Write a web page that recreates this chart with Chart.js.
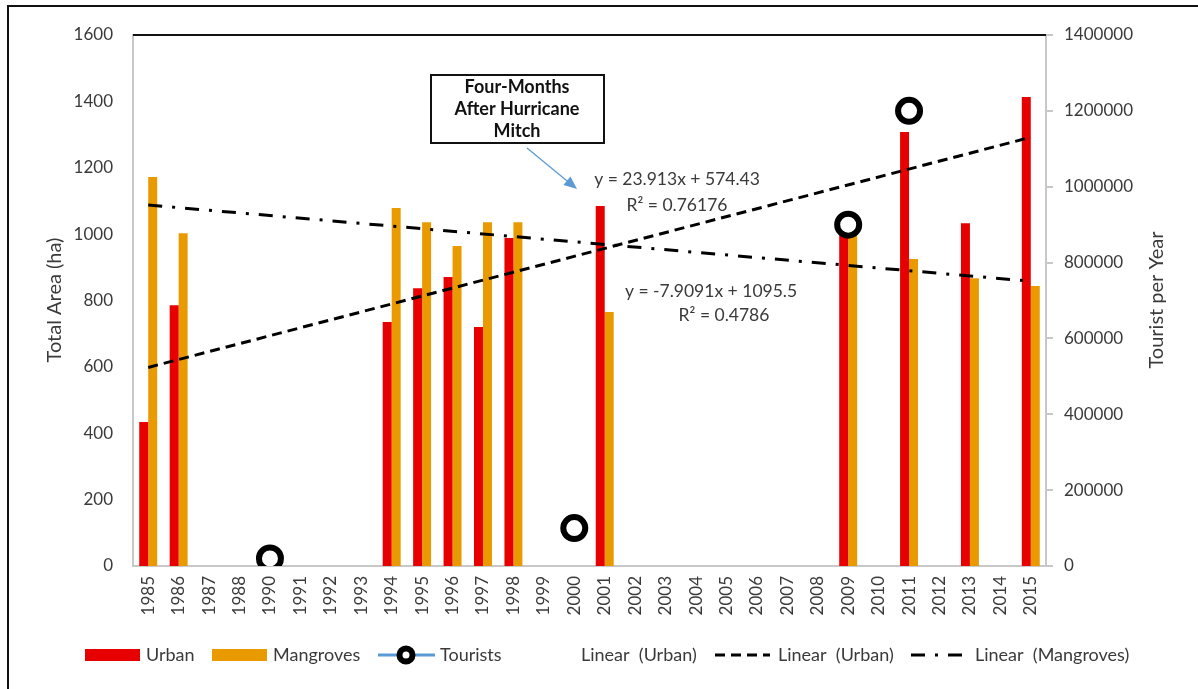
<!DOCTYPE html>
<html><head><meta charset="utf-8">
<script src="https://cdn.jsdelivr.net/npm/chart.js@4.4.0/dist/chart.umd.min.js"></script>
<style>html,body{margin:0;padding:0;background:#fff}#wrap{width:1198px;height:689px;position:relative}</style>
</head><body><div id="wrap"><canvas id="c" width="1198" height="689"></canvas></div>
<script>
// ---- data ----
const years = ['1985','1986','1987','1988','1990','1991','1992','1993','1994','1995','1996','1997','1998','1999','2000','2001','2002','2003','2004','2005','2006','2007','2008','2009','2010','2011','2012','2013','2014','2015'];
const urban = [434,786,null,null,null,null,null,null,735,837,871,720,988,null,null,1085,null,null,null,null,null,null,null,1005,null,1308,null,1033,null,1413];
const mangroves = [1172,1003,null,null,null,null,null,null,1079,1036,964,1036,1036,null,null,765,null,null,null,null,null,null,null,1000,null,925,null,867,null,844];
const tourists = [null,null,null,null,20000,null,null,null,null,null,null,null,null,null,100000,null,null,null,null,null,null,null,null,900000,null,1200000,null,null,null,null];
// trend line end values (first and last category), from the displayed equations
const trendUrbanEnds = [598.3, 1291.8];
const trendMangroveEnds = [1087.6, 858.2];
const leftTicks = [0,200,400,600,800,1000,1200,1400,1600];
const rightTicks = [0,200000,400000,600000,800000,1000000,1200000,1400000];
const eqUrban = ['y = 23.913x + 574.43', 'R² = 0.76176'];
const eqMangrove = ['y = -7.9091x + 1095.5', 'R² = 0.4786'];
const noteLines = ['Four-Months', 'After Hurricane', 'Mitch'];
const legendLabels = ['Urban', 'Mangroves', 'Tourists', 'Linear  (Urban)', 'Linear  (Urban)', 'Linear  (Mangroves)'];

function endsSeries(ends){ const a = years.map(()=>null); a[0]=ends[0]; a[a.length-1]=ends[1]; return a; }

const FONT = 'Lato, "Open Sans", sans-serif';
const RED = '#E60000', ORANGE = '#E89A00', BLUE = '#5B9BD5', TXT = '#3a3a3a';
const DASH = [10,6], DASHDOT = [14,10,3,10];

const overlay = {
  id: 'overlay',
  beforeDraw(chart){
    const c = chart.ctx; c.save(); c.fillStyle='#fff'; c.fillRect(0,0,chart.width,chart.height); c.restore();
  },
  afterDraw(chart){
    const c = chart.ctx, a = chart.chartArea;
    c.save();
    // outer frame (left and top)
    c.strokeStyle = '#111'; c.lineWidth = 2;
    c.beginPath(); c.moveTo(8, 689); c.lineTo(8, 6); c.lineTo(1198, 6); c.stroke();
    // plot area top border
    c.beginPath(); c.moveTo(a.left, a.top); c.lineTo(a.right, a.top); c.stroke();
    // axis titles
    c.fillStyle = TXT; c.font = '20px ' + FONT; c.textAlign = 'center'; c.textBaseline = 'middle';
    c.save(); c.translate(55, 300); c.rotate(-Math.PI/2); c.fillText('Total Area (ha)', 0, 0); c.restore();
    c.save(); c.translate(1157, 300); c.rotate(-Math.PI/2); c.fillText('Tourist per Year', 0, 0); c.restore();
    // annotation box
    c.fillStyle = '#fff'; c.fillRect(431, 75, 173, 68);
    c.strokeStyle = '#111'; c.lineWidth = 2; c.strokeRect(431, 75, 173, 68);
    c.fillStyle = '#111'; c.font = 'bold 18px ' + FONT;
    c.fillText(noteLines[0], 517, 87); c.fillText(noteLines[1], 517, 109); c.fillText(noteLines[2], 517, 131);
    // arrow
    const x0=527,y0=148,x1=577,y1=189;
    const ang = Math.atan2(y1-y0, x1-x0);
    c.strokeStyle = BLUE; c.fillStyle = BLUE; c.lineWidth = 1.3;
    c.beginPath(); c.moveTo(x0,y0); c.lineTo(x1 - 10*Math.cos(ang), y1 - 10*Math.sin(ang)); c.stroke();
    c.beginPath(); c.moveTo(x1,y1);
    c.lineTo(x1 - 13*Math.cos(ang) + 5.5*Math.sin(ang), y1 - 13*Math.sin(ang) - 5.5*Math.cos(ang));
    c.lineTo(x1 - 13*Math.cos(ang) - 5.5*Math.sin(ang), y1 - 13*Math.sin(ang) + 5.5*Math.cos(ang));
    c.closePath(); c.fill();
    // equations
    c.fillStyle = TXT; c.font = '17.5px ' + FONT;
    c.fillText(eqUrban[0], 677, 179); c.fillText(eqUrban[1], 677, 205);
    c.fillText(eqMangrove[0], 711, 291); c.fillText(eqMangrove[1], 724, 315);
    // legend
    const ly = 655;
    c.textAlign = 'left'; c.fillStyle = TXT; c.font = '18px ' + FONT;
    c.fillStyle = RED; c.fillRect(85, 649, 55, 12);
    c.fillStyle = TXT; c.fillText(legendLabels[0], 146, ly);
    c.fillStyle = ORANGE; c.fillRect(212, 649, 55, 12);
    c.fillStyle = TXT; c.fillText(legendLabels[1], 273, ly);
    c.strokeStyle = BLUE; c.lineWidth = 3; c.beginPath(); c.moveTo(378, ly); c.lineTo(435, ly); c.stroke();
    c.beginPath(); c.arc(406, ly, 6.5, 0, Math.PI*2); c.fillStyle='#fff'; c.fill(); c.strokeStyle='#000'; c.lineWidth=6; c.stroke();
    c.fillStyle = TXT; c.fillText(legendLabels[2], 440, ly);
    c.fillText(legendLabels[3], 581, ly);
    c.strokeStyle = '#000'; c.lineWidth = 3; c.setLineDash(DASH);
    c.beginPath(); c.moveTo(715, ly); c.lineTo(770, ly); c.stroke();
    c.setLineDash([]);
    c.fillText(legendLabels[4], 778, ly);
    c.setLineDash(DASHDOT); c.lineDashOffset = 0;
    c.beginPath(); c.moveTo(911, ly); c.lineTo(967, ly); c.stroke();
    c.setLineDash([]);
    c.fillText(legendLabels[5], 975, ly);
    c.restore();
  }
};

new Chart(document.getElementById('c'), {
  data: {
    labels: years,
    datasets: [
      { type:'bar', label:'Urban', data: urban, backgroundColor: RED, yAxisID:'y', order: 3, categoryPercentage: 0.59, barPercentage: 1.0 },
      { type:'bar', label:'Mangroves', data: mangroves, backgroundColor: ORANGE, yAxisID:'y', order: 3, categoryPercentage: 0.59, barPercentage: 1.0 },
      { type:'line', label:'Tourists', data: tourists, yAxisID:'y2', order: 0, borderColor: BLUE, borderWidth: 3, spanGaps: false,
        pointRadius: 11, pointBorderWidth: 6, pointBorderColor: '#000', pointBackgroundColor: '#fff', pointHoverRadius: 11 },
      { type:'line', label:'Linear (Urban)', data: endsSeries(trendUrbanEnds), yAxisID:'y', order: 1, borderColor:'#000', borderWidth: 3,
        borderDash: DASH, spanGaps: true, pointRadius: 0, tension: 0 },
      { type:'line', label:'Linear (Mangroves)', data: endsSeries(trendMangroveEnds), yAxisID:'y', order: 1, borderColor:'#000', borderWidth: 3,
        borderDash: DASHDOT, spanGaps: true, pointRadius: 0, tension: 0 }
    ]
  },
  options: {
    responsive: false, animation: false,
    layout: { padding: { top: 35, left: 0, right: 0, bottom: 0 } },
    plugins: { legend: { display: false }, tooltip: { enabled: false } },
    scales: {
      x: {
        type: 'category', offset: true,
        grid: { display: false, drawTicks: false },
        border: { display: true, color: '#c8c8c8', width: 2 },
        ticks: { color: TXT, font: { family: FONT, size: 17 }, minRotation: 90, maxRotation: 90, padding: 10, autoSkip: false },
        afterFit(s){ s.height = 123; }
      },
      y: {
        position: 'left', min: 0, max: 1600,
        afterBuildTicks(s){ s.ticks = leftTicks.map(v=>({value:v})); },
        grid: { display: false, drawTicks: false },
        border: { display: true, color: '#c8c8c8', width: 2 },
        ticks: { color: TXT, font: { family: FONT, size: 17 }, padding: 20, callback: v => String(v) },
        afterFit(s){ s.width = 133; }
      },
      y2: {
        position: 'right', min: 0, max: 1400000,
        afterBuildTicks(s){ s.ticks = rightTicks.map(v=>({value:v})); },
        grid: { display: true, drawOnChartArea: false, drawTicks: true, tickLength: 7, color: '#c8c8c8', lineWidth: 2 },
        border: { display: true, color: '#c8c8c8', width: 2 },
        ticks: { color: TXT, font: { family: FONT, size: 17 }, padding: 11, callback: v => String(v) },
        afterFit(s){ s.width = 152; }
      }
    }
  },
  plugins: [overlay]
});
</script></body></html>
